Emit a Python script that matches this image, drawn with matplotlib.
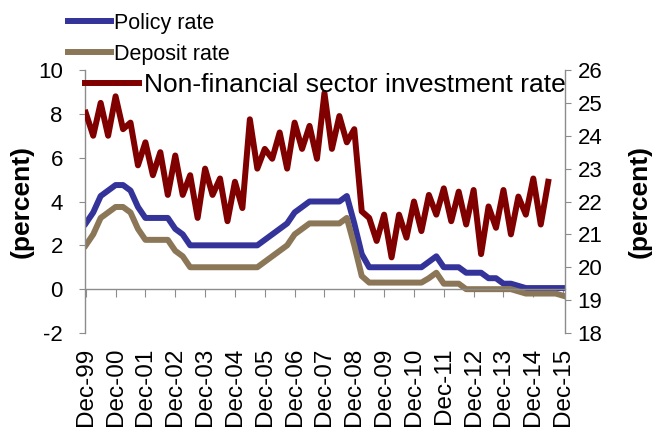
import numpy as np
import matplotlib
matplotlib.use("Agg")
import matplotlib.pyplot as plt

plt.rcParams['font.family'] = ['Liberation Sans', 'DejaVu Sans']
plt.rcParams['axes.unicode_minus'] = False

# quarterly, Dec-99 .. Dec-15
tick_labels = ['Dec-99', 'Dec-00', 'Dec-01', 'Dec-02', 'Dec-03', 'Dec-04', 'Dec-05',
               'Dec-06', 'Dec-07', 'Dec-08', 'Dec-09', 'Dec-10', 'Dec-11', 'Dec-12',
               'Dec-13', 'Dec-14', 'Dec-15']

policy_rate = [3.0, 3.5, 4.25, 4.5, 4.75, 4.75, 4.5, 3.75, 3.25, 3.25, 3.25, 3.25, 2.75,
               2.5, 2.0, 2.0, 2.0, 2.0, 2.0, 2.0, 2.0, 2.0, 2.0, 2.0, 2.25, 2.5, 2.75,
               3.0, 3.5, 3.75, 4.0, 4.0, 4.0, 4.0, 4.0, 4.25, 3.0, 1.6, 1.0, 1.0, 1.0,
               1.0, 1.0, 1.0, 1.0, 1.0, 1.25, 1.5, 1.0, 1.0, 1.0, 0.75, 0.75, 0.75,
               0.5, 0.5, 0.25, 0.25, 0.15, 0.05, 0.05, 0.05, 0.05, 0.05, 0.05]

deposit_rate = [2.0, 2.5, 3.25, 3.5, 3.75, 3.75, 3.5, 2.75, 2.25, 2.25, 2.25, 2.25, 1.75,
                1.5, 1.0, 1.0, 1.0, 1.0, 1.0, 1.0, 1.0, 1.0, 1.0, 1.0, 1.25, 1.5, 1.75,
                2.0, 2.5, 2.75, 3.0, 3.0, 3.0, 3.0, 3.0, 3.25, 2.0, 0.6, 0.3, 0.3, 0.3,
                0.3, 0.3, 0.3, 0.3, 0.3, 0.5, 0.75, 0.25, 0.25, 0.25, 0.0, 0.0, 0.0,
                0.0, 0.0, 0.0, 0.0, -0.1, -0.2, -0.2, -0.2, -0.2, -0.2, -0.3]

# ends Jun-15
invest_rate = [24.7, 24.0, 25.0, 24.0, 25.2, 24.2, 24.4, 23.1, 23.8, 22.8, 23.5, 22.2,
               23.4, 22.2, 22.8, 21.5, 23.0, 22.2, 22.7, 21.4, 22.6, 21.8, 24.5, 23.0,
               23.6, 23.3, 24.1, 23.0, 24.4, 23.6, 24.3, 23.3, 25.3,
               23.6, 24.6, 23.8, 24.2, 21.7, 21.5, 20.8, 21.6, 20.3, 21.6, 20.9, 22.0,
               21.1, 22.2, 21.6, 22.4, 21.4, 22.3, 21.3, 22.35, 20.4, 21.85, 21.2, 22.35,
               21.0, 22.15, 21.6, 22.7, 21.3, 22.6]

blue = '#333399'
brown = '#8b7757'
red = '#800000'
grey = '#8c8c8c'

fig = plt.figure(figsize=(6.55, 4.32), dpi=100)
ax = fig.add_axes([85/655, 1 - 333/432, 480/655, 263/432])
ax2 = ax.twinx()

# x axis line sits at zero on the left scale (set before tick labels, it resets ticks)
ax.spines['bottom'].set_position(('data', 0))

q = np.arange(len(policy_rate))
l1, = ax.plot(q, policy_rate, color=blue, lw=4.3, solid_joinstyle='round')
l2, = ax.plot(q, deposit_rate, color=brown, lw=4.3, solid_joinstyle='round')
l3, = ax2.plot(np.arange(len(invest_rate)), invest_rate, color=red, lw=4.3,
               solid_joinstyle='round')

ax.set_xlim(-0.1, 64.25)
ax.set_ylim(-2, 10)
ax.set_yticks(np.arange(-2, 11, 2))
ax2.set_ylim(18, 26)
ax2.set_yticks(np.arange(18, 27, 1))

ax.set_xticks(np.arange(0, 65, 4))
ax.set_xticklabels(tick_labels)

for a in (ax, ax2):
    a.spines['top'].set_visible(False)
    for s in a.spines.values():
        s.set_color(grey)
        s.set_linewidth(1.0)
ax.spines['right'].set_visible(False)
ax2.spines['left'].set_visible(False)
ax2.spines['bottom'].set_visible(False)

ax.tick_params(axis='x', direction='out', length=6, color=grey, labelsize=17.5, pad=36,
               labelrotation=90)
ax.tick_params(axis='y', direction='out', length=4, color=grey, labelsize=16, pad=12)
ax2.tick_params(axis='y', direction='out', length=4, color=grey, labelsize=16, pad=5)

ax.set_ylabel('(percent)', fontsize=19, fontweight='bold')
ax.yaxis.set_label_coords(-0.108, 0.5)
ax2.set_ylabel('(percent)', fontsize=19, fontweight='bold')
ax2.yaxis.set_label_coords(1.13, 0.5)

fig.legend([l1, l2], ['Policy rate', 'Deposit rate'],
           loc='upper left', bbox_to_anchor=(68/655, 1 - 13/432), frameon=False,
           fontsize=15.5, handlelength=2.0, handletextpad=0.15, labelspacing=0.45,
           borderpad=0, borderaxespad=0)
fig.legend([l3], ['Non-financial sector investment rate'],
           loc='upper left', bbox_to_anchor=(85/655, 1 - 73/432), frameon=False,
           fontsize=19, handlelength=2.05, handletextpad=0.2,
           borderpad=0, borderaxespad=0)

fig.savefig('out.png', dpi=100)
